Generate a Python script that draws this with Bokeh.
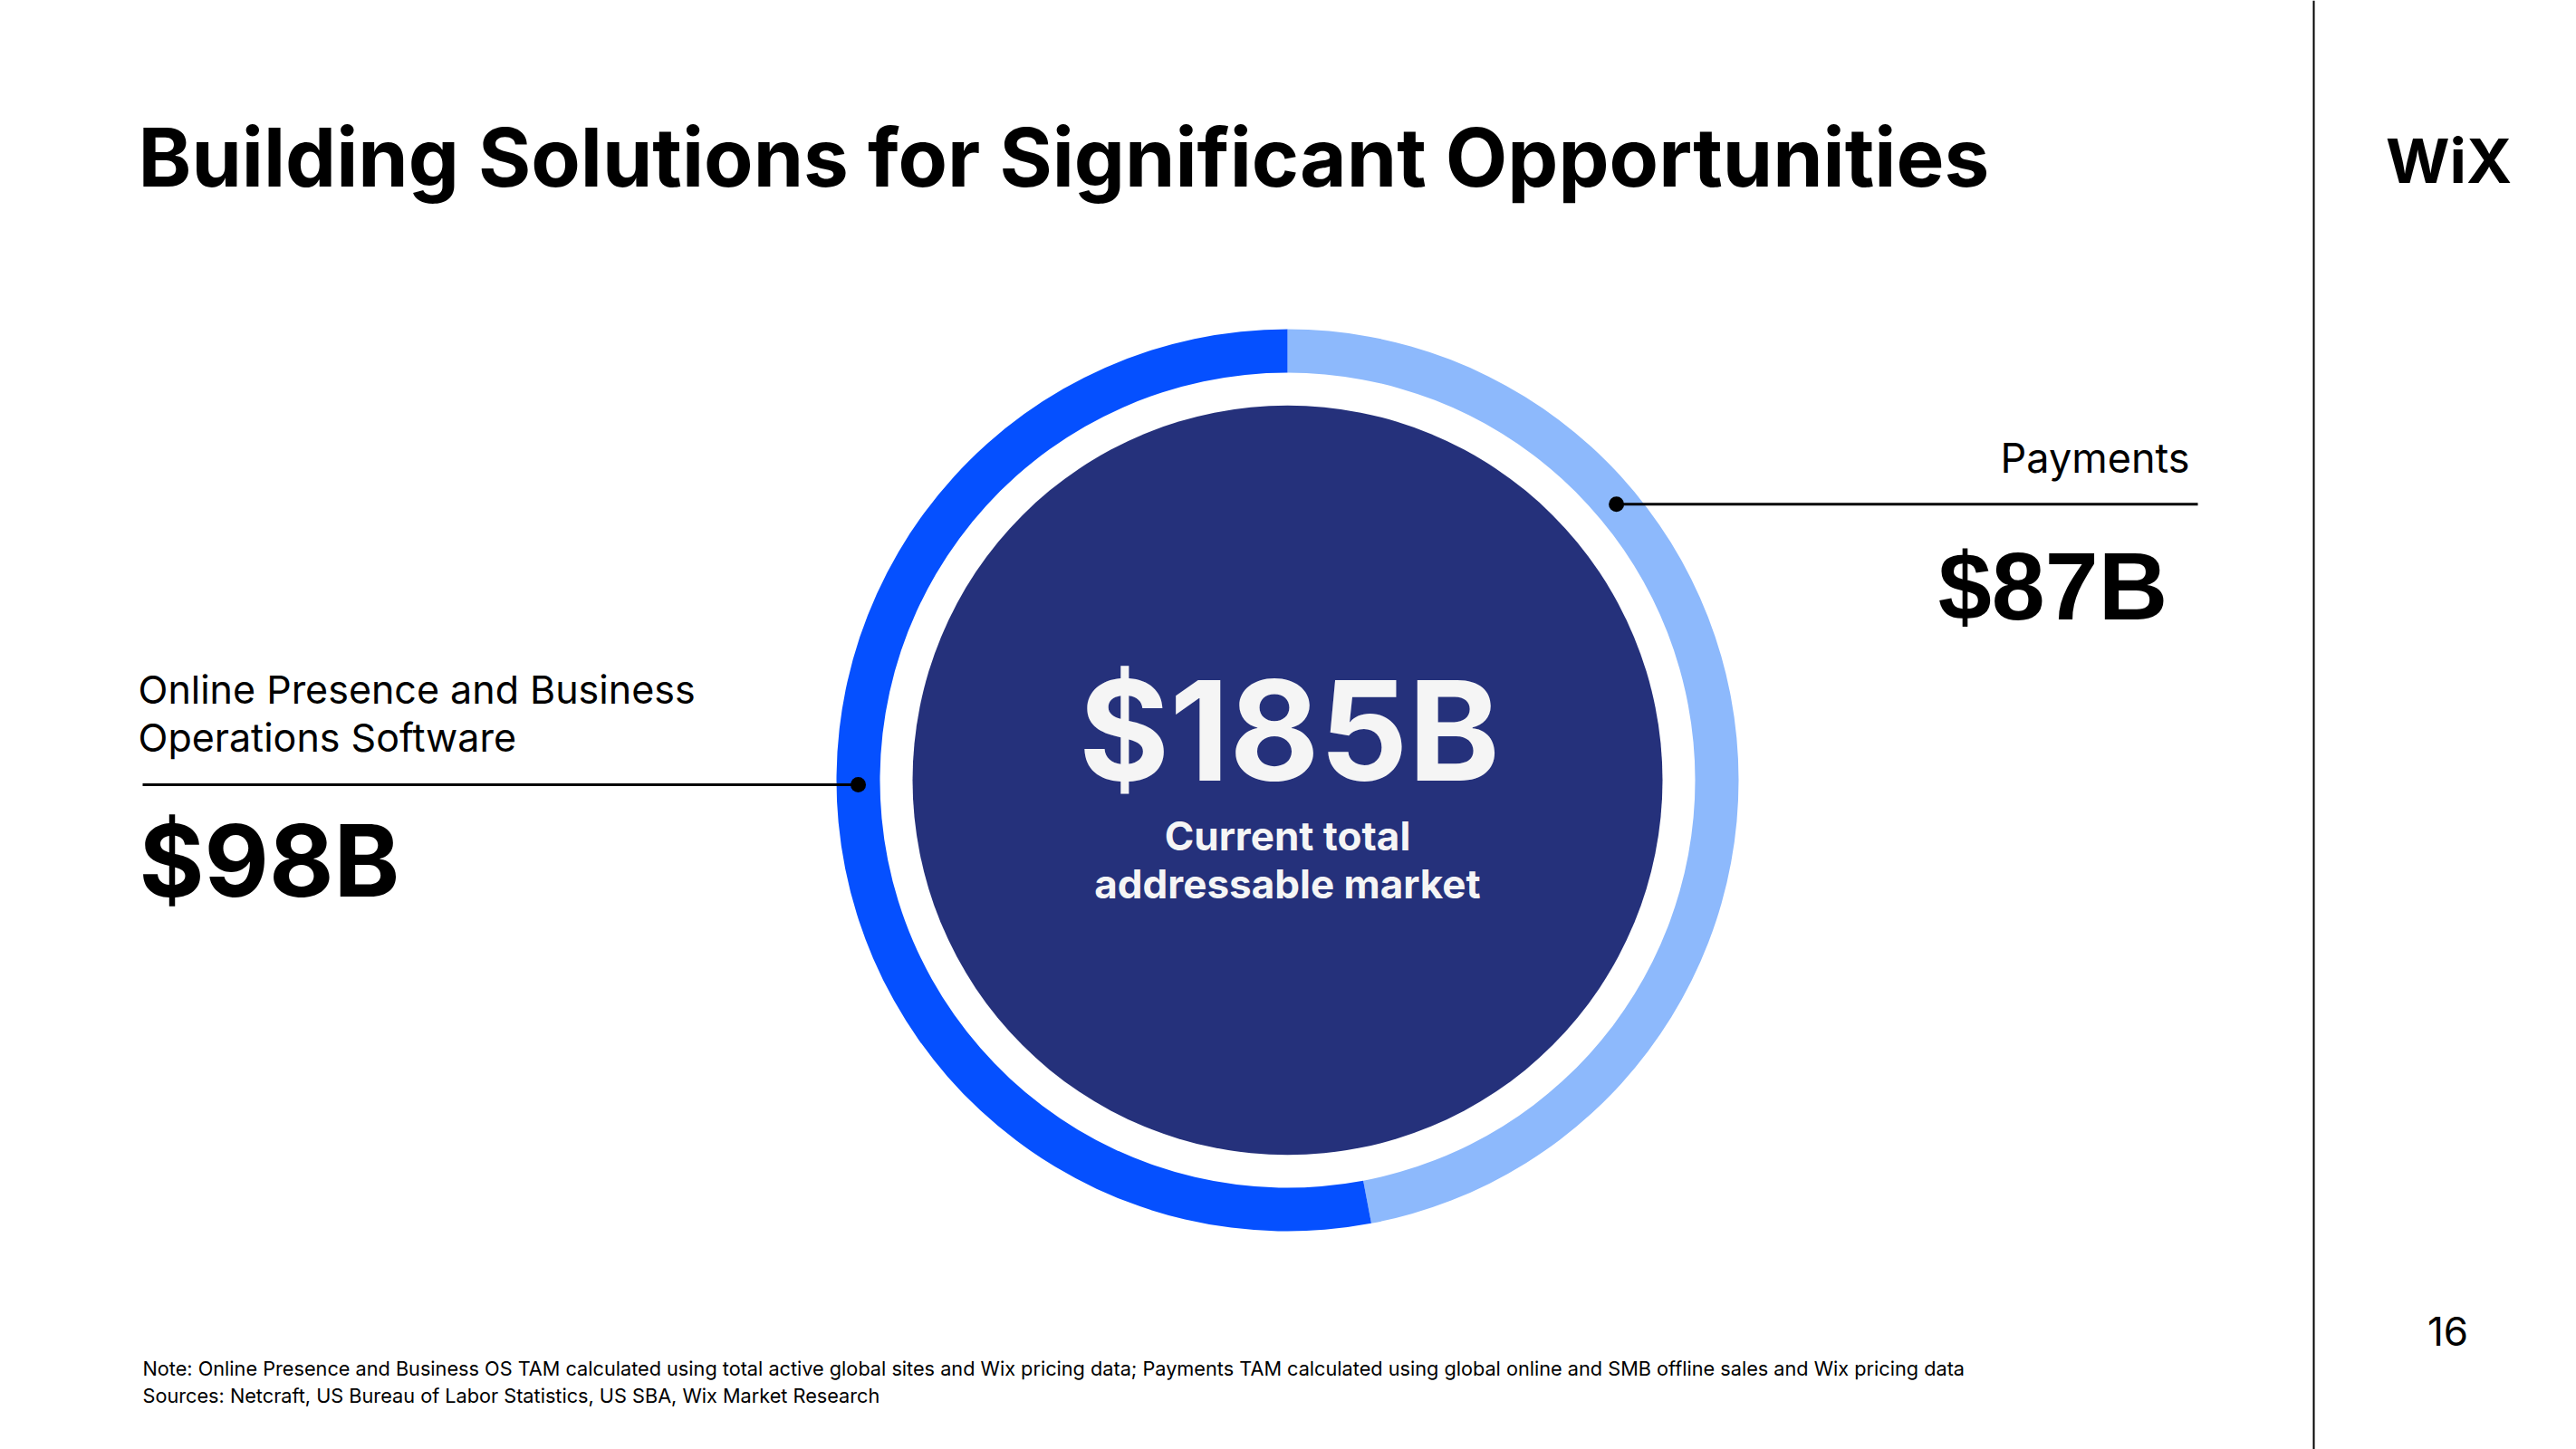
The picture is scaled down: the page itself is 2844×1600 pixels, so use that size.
import math
from bokeh.plotting import figure
from bokeh.models import Range1d
from bokeh.embed import file_html
from bokeh.resources import INLINE
from bokeh.core.properties import value

# ---------------- data ----------------
title_text = "Building Solutions for Significant Opportunities"
logo_text = "WiX"
# segments in clockwise order starting from 12 o'clock
segment_names = ["Payments", "Online Presence and Business Operations Software"]
segment_values = [87, 98]          # $B
segment_labels = ["$87B", "$98B"]
segment_colors = ["#8DB9FC", "#0550FF"]
total_value = 185                   # $B
total_label = "$185B"
center_caption = ["Current total", "addressable market"]
left_label_lines = ["Online Presence and Business", "Operations Software"]
right_label_lines = ["Payments"]
note_lines = [
    "Note: Online Presence and Business OS TAM calculated using total active global sites and Wix pricing data; "
    "Payments TAM calculated using global online and SMB offline sales and Wix pricing data",
    "Sources: Netcraft, US Bureau of Labor Statistics, US SBA, Wix Market Research",
]
page_number = "16"

# ---------------- canvas ----------------
W, H = 2844, 1600
K = 0.34  # empirical baseline correction (fraction of font size)


def Y(ypx):
    return H - ypx


p = figure(width=W, height=H, x_range=Range1d(0, W), y_range=Range1d(0, H),
           output_backend="svg", toolbar_location=None, min_border=0,
           x_axis_type=None, y_axis_type=None)
p.grid.visible = False
p.outline_line_color = None
p.background_fill_color = "white"
p.border_fill_color = "white"

INTER = value("Inter")


def txt(xs, baselines, texts, fs, font=INTER, style="normal", color="#000000", align="left", k=K):
    p.text(x=xs, y=[Y(b - k * fs) for b in baselines], text=texts, text_font=font,
           text_font_style=style, text_font_size=f"{fs}px", text_color=color,
           text_align=align, text_baseline="alphabetic")


# ---------------- donut ----------------
cx, cy = 1421, Y(861)
r_out, r_in, r_core = 498, 450, 414

a0 = math.pi / 2
starts, ends = [], []
tot = sum(segment_values)
for v in segment_values:
    a1 = a0 - v / tot * 2 * math.pi
    starts.append(a1)
    ends.append(a0)
    a0 = a1

p.annular_wedge(x=[cx] * len(segment_values), y=[cy] * len(segment_values),
                inner_radius=r_in, outer_radius=r_out,
                start_angle=starts, end_angle=ends, direction="anticlock",
                fill_color=segment_colors, line_color=None)

p.circle(x=[cx], y=[cy], radius=r_core, fill_color="#25317B", line_color=None)

# center texts
txt([cx + 2], [858], [total_label], 153, style="bold", color="#F5F5F5", align="center")
txt([cx, cx], [937, 990], center_caption, 44, style="bold", color="#F5F5F5", align="center")

# ---------------- leaders ----------------
r_mid = (r_in + r_out) / 2
pay_ang = math.radians(40)
sw_ang = math.radians(180.6)
pdx, pdy = cx + r_mid * math.cos(pay_ang), cy + r_mid * math.sin(pay_ang)
sdx, sdy = cx + r_mid * math.cos(sw_ang), cy + r_mid * math.sin(sw_ang)

p.segment(x0=[pdx, 157], y0=[pdy, sdy], x1=[2426, sdx], y1=[pdy, sdy],
          line_color="#000000", line_width=3)
p.scatter(x=[pdx, sdx], y=[pdy, sdy], size=17, marker="circle",
          fill_color="#000000", line_color=None)

# left label
txt([152, 152], [775, 828], left_label_lines, 43)
txt([153], [987], [segment_labels[1]], 110, style="bold")

# right label
txt([2417], [520], right_label_lines, 45, align="right")
txt([2266], [683], [segment_labels[0]], 106, font=value("Liberation Sans"), style="bold", align="center")

# ---------------- title, logo, frame ----------------
txt([152], [203], [title_text], 89, style="bold")
txt([2703], [200], [logo_text], 68, style="bold", align="center")
p.segment(x0=[2554], y0=[0], x1=[2554], y1=[H], line_color="#000000", line_width=2)

# ---------------- notes ----------------
txt([157, 157], [1518, 1548], note_lines, 21.7)
txt([2702], [1484], [page_number], 44, align="center")

open("out.html", "w").write(file_html(p, INLINE))
